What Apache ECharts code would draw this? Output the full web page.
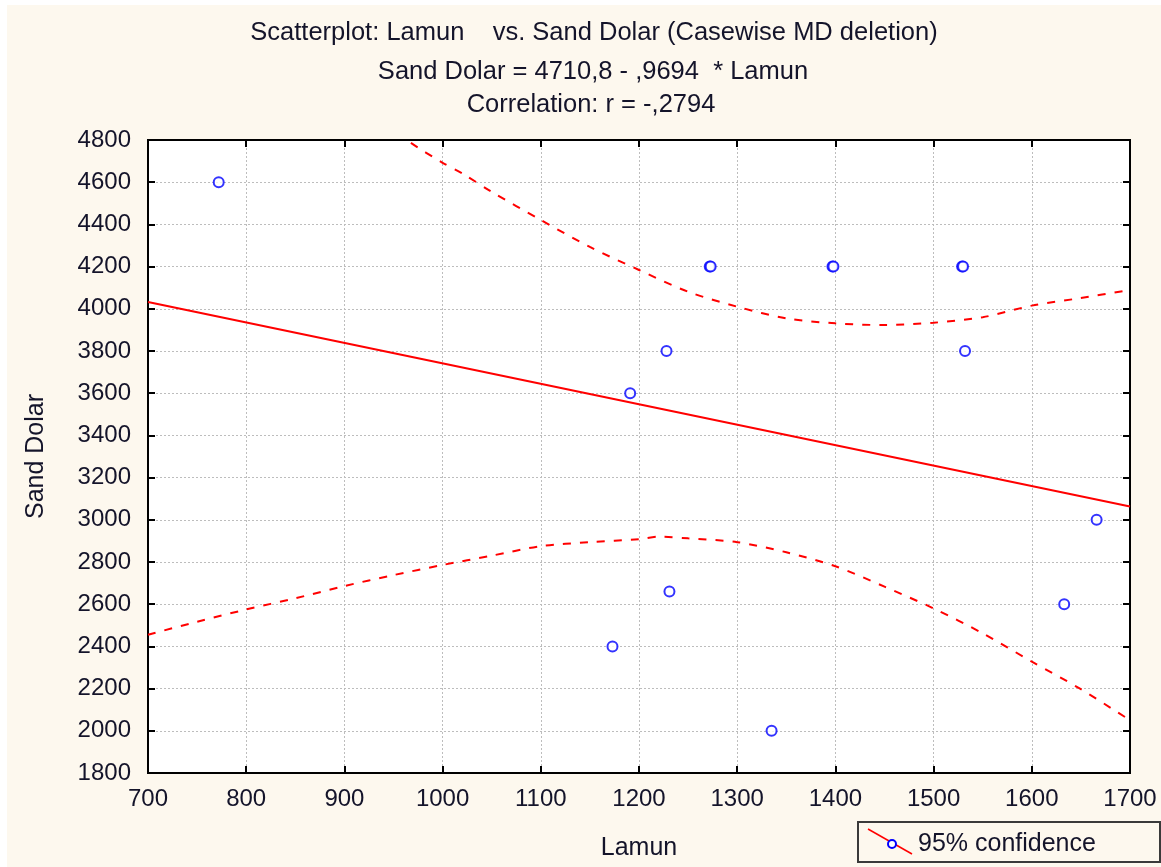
<!DOCTYPE html>
<html>
<head>
<meta charset="utf-8">
<script src="https://cdn.jsdelivr.net/npm/echarts@6/dist/echarts.min.js"></script>
<style>
  html, body { margin: 0; padding: 0; background: #ffffff; }
  #chart { position: absolute; left: 7px; top: 5px; width: 1154px; height: 862px; }
</style>
</head>
<body>
<div id="chart"></div>
<script>
// ---- data ----
var titleLines = [
  'Scatterplot: Lamun    vs. Sand Dolar (Casewise MD deletion)',
  'Sand Dolar = 4710,8 - ,9694  * Lamun',
  'Correlation: r = -,2794'
];
var xName = 'Lamun';
var yName = 'Sand Dolar';
var legendLabel = '95% confidence';

var pointsX = [772, 1272, 1273, 1397, 1398, 1529, 1530, 1228, 1532, 1191, 1666, 1633, 1231, 1173, 1335];
var pointsY = [4600, 4200, 4200, 4200, 4200, 4200, 4200, 3800, 3800, 3600, 3000, 2600, 2660, 2400, 2000];

var regX = [700, 1700];
var regY = [4032, 3063];

var upperX = [955, 966, 1000, 1020, 1050, 1100, 1150, 1200, 1250, 1300, 1350, 1400, 1450, 1500, 1550, 1600, 1650, 1700];
var upperY = [4840, 4792, 4692, 4642, 4554, 4421, 4293, 4184, 4081, 4010, 3955, 3931, 3923, 3934, 3960, 4015, 4051, 4089];

var lowerX = [700, 750, 800, 850, 900, 950, 1000, 1050, 1100, 1150, 1200, 1220, 1250, 1300, 1350, 1400, 1450, 1500, 1550, 1600, 1650, 1700];
var lowerY = [2455, 2517, 2575, 2628, 2686, 2738, 2786, 2830, 2875, 2894, 2908, 2920, 2912, 2894, 2846, 2780, 2683, 2580, 2462, 2328, 2197, 2050];

var xMin = 700, xMax = 1700, xStep = 100;
var yMin = 1800, yMax = 4800, yStep = 200;

function zip(a, b) { return a.map(function (v, i) { return [v, b[i]]; }); }
function plain(v) { return String(v); }

var FONT = '"Liberation Sans", Arial, sans-serif';
var TXT = '#14142a';
var CREAM = '#fdf8ee';

var chart = echarts.init(document.getElementById('chart'), null, { renderer: 'canvas' });

var gridLine = { show: true, lineStyle: { color: '#bdbdbd', type: [2, 2], width: 1 } };
var tickIn = { show: true, inside: true, length: 7, lineStyle: { color: '#000', width: 2 } };
var lineAx = { show: true, onZero: false, lineStyle: { color: '#000', width: 2 } };

var option = {
  animation: false,
  backgroundColor: CREAM,
  grid: {
    left: 141, top: 135, right: 31, bottom: 94,
    show: true, backgroundColor: '#ffffff', borderColor: '#000', borderWidth: 2
  },
  xAxis: [{
    type: 'value', min: xMin, max: xMax, interval: xStep, position: 'bottom',
    name: xName, nameLocation: 'middle', nameGap: 63,
    nameTextStyle: { fontFamily: FONT, fontSize: 25, color: TXT },
    axisLine: lineAx, axisTick: tickIn, splitLine: gridLine,
    axisLabel: { fontFamily: FONT, fontSize: 24, color: TXT, margin: 14, formatter: plain }
  }, {
    type: 'value', min: xMin, max: xMax, interval: xStep, position: 'top',
    axisLine: lineAx, axisTick: tickIn, splitLine: { show: false },
    axisLabel: { show: false }
  }],
  yAxis: [{
    type: 'value', min: yMin, max: yMax, interval: yStep, position: 'left',
    name: yName, nameLocation: 'middle', nameGap: 99,
    nameTextStyle: { fontFamily: FONT, fontSize: 25, color: TXT },
    axisLine: lineAx, axisTick: tickIn, splitLine: gridLine,
    axisLabel: { fontFamily: FONT, fontSize: 24, color: TXT, margin: 17, formatter: plain }
  }, {
    type: 'value', min: yMin, max: yMax, interval: yStep, position: 'right',
    axisLine: lineAx, axisTick: tickIn, splitLine: { show: false },
    axisLabel: { show: false }
  }],
  series: [{
    type: 'line', data: zip(regX, regY), showSymbol: false, clip: true,
    lineStyle: { color: '#ff0000', width: 2 }, z: 3
  }, {
    type: 'line', data: zip(upperX, upperY), showSymbol: false, clip: true, smooth: 0.3,
    lineStyle: { color: '#ff0000', width: 2, type: [8, 9] }, z: 3
  }, {
    type: 'line', data: zip(lowerX, lowerY), showSymbol: false, clip: true, smooth: 0.3,
    lineStyle: { color: '#ff0000', width: 2, type: [8, 9] }, z: 3
  }, {
    type: 'scatter', data: zip(pointsX, pointsY), symbol: 'circle', symbolSize: 10,
    itemStyle: { color: '#ffffff', borderColor: '#0000ff', borderWidth: 2 }, z: 4
  }],
  graphic: [
    { type: 'text', x: 587, y: 28, style: { text: titleLines[0], font: '25.5px ' + FONT, fill: TXT, textAlign: 'center', textVerticalAlign: 'middle' } },
    { type: 'text', x: 586, y: 67, style: { text: titleLines[1], font: '25.5px ' + FONT, fill: TXT, textAlign: 'center', textVerticalAlign: 'middle' } },
    { type: 'text', x: 584, y: 100, style: { text: titleLines[2], font: '25.5px ' + FONT, fill: TXT, textAlign: 'center', textVerticalAlign: 'middle' } },
    { type: 'rect', shape: { x: 851, y: 817, width: 302, height: 40 }, style: { fill: CREAM, stroke: '#3a3a3a', lineWidth: 2 } },
    { type: 'line', shape: { x1: 861, y1: 824, x2: 905, y2: 849 }, style: { stroke: '#ff0000', lineWidth: 1.5 } },
    { type: 'circle', shape: { cx: 885, cy: 839, r: 4 }, style: { fill: '#ffffff', stroke: '#0000ff', lineWidth: 2 } },
    { type: 'text', x: 911, y: 839, style: { text: legendLabel, font: '25px ' + FONT, fill: TXT, textAlign: 'left', textVerticalAlign: 'middle' } }
  ]
};
chart.setOption(option);
</script>
</body>
</html>
